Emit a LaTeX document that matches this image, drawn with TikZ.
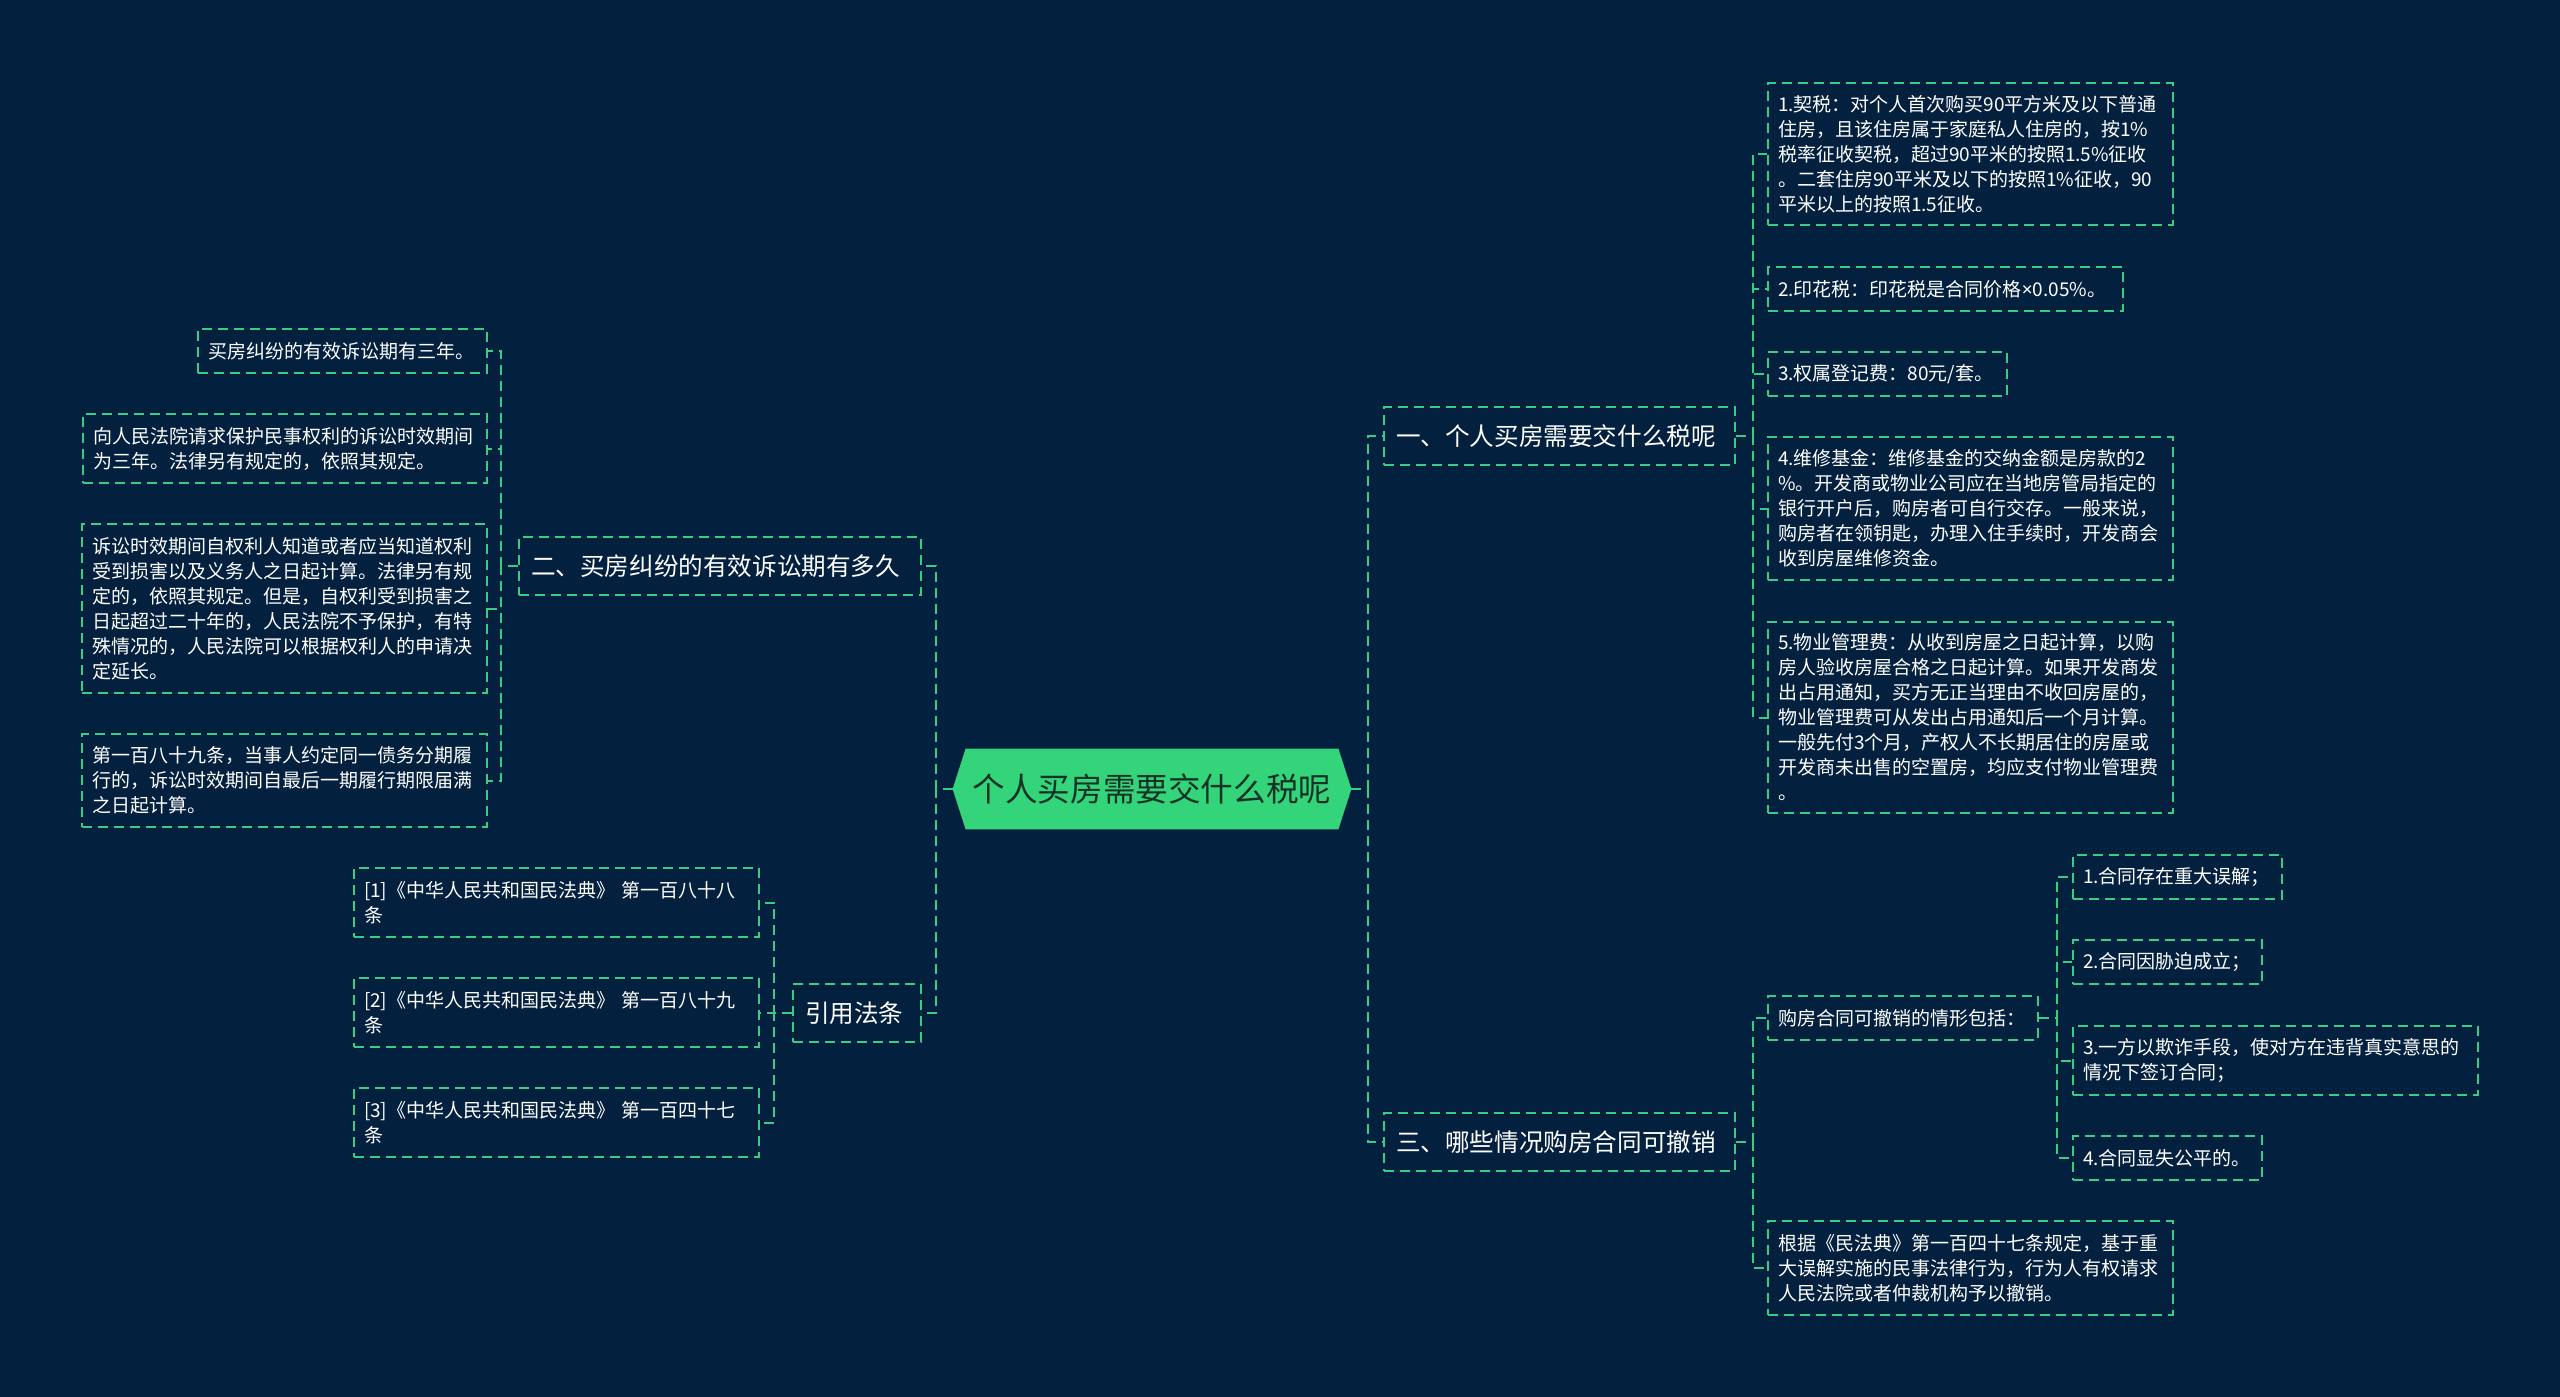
\documentclass[tikz,border=0pt]{standalone}
\usepackage{fontspec}
\setmainfont{Noto Sans CJK SC}
\newfontfamily\latinfont{Noto Sans}
\usetikzlibrary{backgrounds}
\definecolor{bgc}{HTML}{03213F}
\definecolor{lc}{HTML}{3CCB82}
\definecolor{rootc}{HTML}{33D47A}
\definecolor{roottxt}{HTML}{163226}
\tikzset{
  gdash/.style={draw=lc, line width=1pt, dash pattern=on 5pt off 3pt},
  tbox/.style={gdash, text=white, align=left, inner xsep=5pt, inner ysep=0pt,
    font=\fontsize{9.5pt}{12.5pt}\selectfont},
  lbox/.style={tbox, inner xsep=6pt, font=\fontsize{12.3pt}{15pt}\selectfont},
  conn/.style={gdash},
}
\newcommand\mybox[7]{%
  \pgfmathsetmacro\myBW{(#5-#3)*0.5-10}%
  \pgfmathsetmacro\myBH{(#6-#4)*0.5}%
  \node[#1, text width=\myBW pt, minimum height=\myBH pt] (#2) at ({(#3+#5)/2},{(#4+#6)/2}) {#7};}
\begin{document}
\begin{tikzpicture}[x=0.5pt,y=-0.5pt]
\begin{scope}[on background layer]
  \fill[bgc] (0,0) rectangle (2560,1397);
\end{scope}
\useasboundingbox (0,0) rectangle (2560,1397);

% root
\node[font=\fontsize{16.3pt}{20pt}\selectfont, text=roottxt, minimum width=199pt,
      minimum height=40pt, inner sep=0pt] (root) at (1152,789) {个人买房需要交什么税呢};
\begin{scope}[on background layer]
  \fill[rootc] (root.west) -- ([xshift=6.5pt]root.north west) -- ([xshift=-6.5pt]root.north east)
    -- (root.east) -- ([xshift=-6.5pt]root.south east) -- ([xshift=6.5pt]root.south west) -- cycle;
\end{scope}

% level 1
\mybox{lbox}{n1}{1386}{407}{1733}{465}{一、个人买房需要交什么税呢}
\mybox{lbox}{n3}{1386}{1113}{1733}{1171}{三、哪些情况购房合同可撤销}
\mybox{lbox}{n2}{521}{537}{919}{595}{二、买房纠纷的有效诉讼期有多久}
\mybox{lbox}{n4}{795}{984}{919}{1042}{引用法条}

% children of n1
\mybox{tbox}{a1}{1768}{83}{2173}{225}{1.契税：对个人首次购买90平方米及以下普通\\住房，且该住房属于家庭私人住房的，按1\%\\税率征收契税，超过90平米的按照1.5\%征收\\。二套住房90平米及以下的按照1\%征收，90\\平米以上的按照1.5征收。}
\mybox{tbox}{a2}{1768}{267}{2123}{311}{2.印花税：印花税是合同价格{\latinfont ×}0.05\%。}
\mybox{tbox}{a3}{1768}{352}{2007}{396}{3.权属登记费：80元/套。}
\mybox{tbox}{a4}{1768}{437}{2173}{580}{4.维修基金：维修基金的交纳金额是房款的2\\\%。开发商或物业公司应在当地房管局指定的\\银行开户后，购房者可自行交存。一般来说，\\购房者在领钥匙，办理入住手续时，开发商会\\收到房屋维修资金。}
\mybox{tbox}{a5}{1768}{622}{2173}{813}{5.物业管理费：从收到房屋之日起计算，以购\\房人验收房屋合格之日起计算。如果开发商发\\出占用通知，买方无正当理由不收回房屋的，\\物业管理费可从发出占用通知后一个月计算。\\一般先付3个月，产权人不长期居住的房屋或\\开发商未出售的空置房，均应支付物业管理费\\。}

% children of n3
\mybox{tbox}{c1}{1768}{996}{2038}{1040}{购房合同可撤销的情形包括：}
\mybox{tbox}{c2}{1768}{1221}{2173}{1315}{根据《民法典》第一百四十七条规定，基于重\\大误解实施的民事法律行为，行为人有权请求\\人民法院或者仲裁机构予以撤销。}
\mybox{tbox}{d1}{2073}{855}{2282}{899}{1.合同存在重大误解；}
\mybox{tbox}{d2}{2073}{940}{2262}{984}{2.合同因胁迫成立；}
\mybox{tbox}{d3}{2073}{1026}{2478}{1095}{3.一方以欺诈手段，使对方在违背真实意思的\\情况下签订合同；}
\mybox{tbox}{d4}{2073}{1136}{2262}{1180}{4.合同显失公平的。}

% children of n2
\mybox{tbox}{b1}{198}{329}{487}{373}{买房纠纷的有效诉讼期有三年。}
\mybox{tbox}{b2}{83}{414}{487}{483}{向人民法院请求保护民事权利的诉讼时效期间\\为三年。法律另有规定的，依照其规定。}
\mybox{tbox}{b3}{82}{524}{487}{693}{诉讼时效期间自权利人知道或者应当知道权利\\受到损害以及义务人之日起计算。法律另有规\\定的，依照其规定。但是，自权利受到损害之\\日起超过二十年的，人民法院不予保护，有特\\殊情况的，人民法院可以根据权利人的申请决\\定延长。}
\mybox{tbox}{b4}{82}{734}{487}{827}{第一百八十九条，当事人约定同一债务分期履\\行的，诉讼时效期间自最后一期履行期限届满\\之日起计算。}

% children of n4
\mybox{tbox}{e1}{354}{868}{759}{937}{[1]《中华人民共和国民法典》 第一百八十八\\条}
\mybox{tbox}{e2}{354}{978}{759}{1047}{[2]《中华人民共和国民法典》 第一百八十九\\条}
\mybox{tbox}{e3}{354}{1088}{759}{1157}{[3]《中华人民共和国民法典》 第一百四十七\\条}

% connectors
\foreach \c in {n1,n3} \draw[conn] (root.east) -- ++(17,0) |- (\c.west);
\foreach \c in {n2,n4} \draw[conn] (root.west) -- ++(-17,0) |- (\c.east);
\foreach \c in {a1,a2,a3,a4,a5} \draw[conn] (n1.east) -- ++(17,0) |- (\c.west);
\foreach \c in {c1,c2} \draw[conn] (n3.east) -- ++(17,0) |- (\c.west);
\foreach \c in {d1,d2,d3,d4} \draw[conn] (c1.east) -- ++(18,0) |- (\c.west);
\foreach \c in {b1,b2,b3,b4} \draw[conn] (n2.west) -- ++(-17,0) |- (\c.east);
\foreach \c in {e1,e2,e3} \draw[conn] (n4.west) -- ++(-18,0) |- (\c.east);
\end{tikzpicture}
\end{document}
